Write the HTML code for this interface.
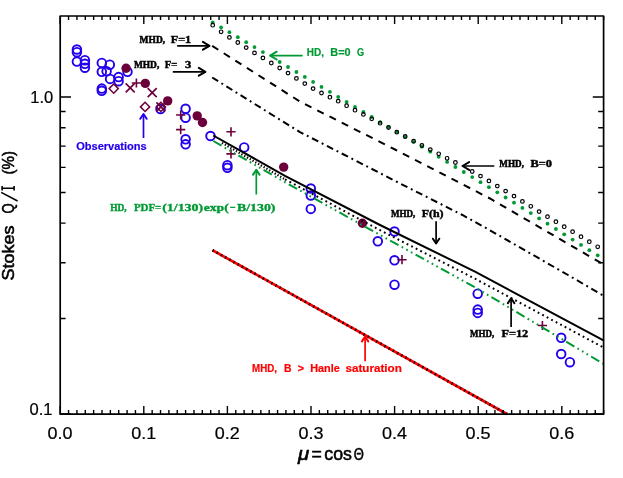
<!DOCTYPE html>
<html><head><meta charset="utf-8"><title>Stokes Q/I</title>
<style>html,body{margin:0;padding:0;background:#fff;}svg{display:block;will-change:transform;}</style>
</head><body>
<svg width="623" height="478" viewBox="0 0 623 478">
<rect width="623" height="478" fill="#fff"/>
<circle cx="212.7" cy="22.3" r="1.9" fill="#009933"/>
<circle cx="221.1" cy="27.3" r="1.9" fill="#009933"/>
<circle cx="229.4" cy="32.2" r="1.9" fill="#009933"/>
<circle cx="237.8" cy="37.2" r="1.9" fill="#009933"/>
<circle cx="246.2" cy="42.2" r="1.9" fill="#009933"/>
<circle cx="254.5" cy="47.1" r="1.9" fill="#009933"/>
<circle cx="262.9" cy="52.1" r="1.9" fill="#009933"/>
<circle cx="279.7" cy="62.0" r="1.9" fill="#009933"/>
<circle cx="288.0" cy="67.0" r="1.9" fill="#009933"/>
<circle cx="296.4" cy="72.0" r="1.9" fill="#009933"/>
<circle cx="304.8" cy="76.9" r="1.9" fill="#009933"/>
<circle cx="313.1" cy="81.9" r="1.9" fill="#009933"/>
<circle cx="321.5" cy="86.9" r="1.9" fill="#009933"/>
<circle cx="329.9" cy="91.8" r="1.9" fill="#009933"/>
<circle cx="338.2" cy="96.9" r="1.9" fill="#009933"/>
<circle cx="346.6" cy="101.9" r="1.9" fill="#009933"/>
<circle cx="355.0" cy="107.0" r="1.9" fill="#009933"/>
<circle cx="363.4" cy="112.0" r="1.9" fill="#009933"/>
<circle cx="371.7" cy="117.0" r="1.9" fill="#009933"/>
<circle cx="380.1" cy="122.1" r="1.9" fill="#009933"/>
<circle cx="388.5" cy="127.1" r="1.9" fill="#009933"/>
<circle cx="396.8" cy="132.0" r="1.9" fill="#009933"/>
<circle cx="405.2" cy="136.9" r="1.9" fill="#009933"/>
<circle cx="413.6" cy="141.8" r="1.9" fill="#009933"/>
<circle cx="421.9" cy="146.7" r="1.9" fill="#009933"/>
<circle cx="430.3" cy="151.7" r="1.9" fill="#009933"/>
<circle cx="438.7" cy="156.8" r="1.9" fill="#009933"/>
<circle cx="447.1" cy="161.9" r="1.9" fill="#009933"/>
<circle cx="455.4" cy="167.0" r="1.9" fill="#009933"/>
<circle cx="463.8" cy="172.0" r="1.9" fill="#009933"/>
<circle cx="472.2" cy="177.1" r="1.9" fill="#009933"/>
<circle cx="480.5" cy="182.2" r="1.9" fill="#009933"/>
<circle cx="488.9" cy="187.2" r="1.9" fill="#009933"/>
<circle cx="497.3" cy="192.3" r="1.9" fill="#009933"/>
<circle cx="505.6" cy="197.5" r="1.9" fill="#009933"/>
<circle cx="514.0" cy="202.7" r="1.9" fill="#009933"/>
<circle cx="522.4" cy="207.9" r="1.9" fill="#009933"/>
<circle cx="530.8" cy="213.1" r="1.9" fill="#009933"/>
<circle cx="539.1" cy="218.4" r="1.9" fill="#009933"/>
<circle cx="547.5" cy="223.7" r="1.9" fill="#009933"/>
<circle cx="555.9" cy="229.0" r="1.9" fill="#009933"/>
<circle cx="564.2" cy="234.3" r="1.9" fill="#009933"/>
<circle cx="572.6" cy="239.6" r="1.9" fill="#009933"/>
<circle cx="581.0" cy="244.9" r="1.9" fill="#009933"/>
<circle cx="589.3" cy="250.2" r="1.9" fill="#009933"/>
<circle cx="597.7" cy="255.3" r="1.9" fill="#009933"/>
<circle cx="212.7" cy="25.2" r="1.8" fill="none" stroke="#000" stroke-width="1.2"/>
<circle cx="221.1" cy="31.8" r="1.8" fill="none" stroke="#000" stroke-width="1.2"/>
<circle cx="229.4" cy="37.4" r="1.8" fill="none" stroke="#000" stroke-width="1.2"/>
<circle cx="237.8" cy="42.5" r="1.8" fill="none" stroke="#000" stroke-width="1.2"/>
<circle cx="246.2" cy="47.6" r="1.8" fill="none" stroke="#000" stroke-width="1.2"/>
<circle cx="254.5" cy="52.9" r="1.8" fill="none" stroke="#000" stroke-width="1.2"/>
<circle cx="262.9" cy="57.9" r="1.8" fill="none" stroke="#000" stroke-width="1.2"/>
<circle cx="271.3" cy="63.0" r="1.8" fill="none" stroke="#000" stroke-width="1.2"/>
<circle cx="279.7" cy="68.0" r="1.8" fill="none" stroke="#000" stroke-width="1.2"/>
<circle cx="288.0" cy="73.1" r="1.8" fill="none" stroke="#000" stroke-width="1.2"/>
<circle cx="296.4" cy="78.4" r="1.8" fill="none" stroke="#000" stroke-width="1.2"/>
<circle cx="304.8" cy="83.6" r="1.8" fill="none" stroke="#000" stroke-width="1.2"/>
<circle cx="313.1" cy="88.6" r="1.8" fill="none" stroke="#000" stroke-width="1.2"/>
<circle cx="321.5" cy="93.0" r="1.8" fill="none" stroke="#000" stroke-width="1.2"/>
<circle cx="329.9" cy="97.2" r="1.8" fill="none" stroke="#000" stroke-width="1.2"/>
<circle cx="338.2" cy="101.2" r="1.8" fill="none" stroke="#000" stroke-width="1.2"/>
<circle cx="346.6" cy="105.7" r="1.8" fill="none" stroke="#000" stroke-width="1.2"/>
<circle cx="355.0" cy="110.2" r="1.8" fill="none" stroke="#000" stroke-width="1.2"/>
<circle cx="363.4" cy="114.4" r="1.8" fill="none" stroke="#000" stroke-width="1.2"/>
<circle cx="371.7" cy="118.8" r="1.8" fill="none" stroke="#000" stroke-width="1.2"/>
<circle cx="380.1" cy="123.2" r="1.8" fill="none" stroke="#000" stroke-width="1.2"/>
<circle cx="388.5" cy="127.5" r="1.8" fill="none" stroke="#000" stroke-width="1.2"/>
<circle cx="396.8" cy="132.2" r="1.8" fill="none" stroke="#000" stroke-width="1.2"/>
<circle cx="405.2" cy="136.5" r="1.8" fill="none" stroke="#000" stroke-width="1.2"/>
<circle cx="413.6" cy="141.2" r="1.8" fill="none" stroke="#000" stroke-width="1.2"/>
<circle cx="421.9" cy="145.5" r="1.8" fill="none" stroke="#000" stroke-width="1.2"/>
<circle cx="430.3" cy="149.6" r="1.8" fill="none" stroke="#000" stroke-width="1.2"/>
<circle cx="438.7" cy="153.8" r="1.8" fill="none" stroke="#000" stroke-width="1.2"/>
<circle cx="447.1" cy="158.3" r="1.8" fill="none" stroke="#000" stroke-width="1.2"/>
<circle cx="455.4" cy="162.5" r="1.8" fill="none" stroke="#000" stroke-width="1.2"/>
<circle cx="472.2" cy="171.5" r="1.8" fill="none" stroke="#000" stroke-width="1.2"/>
<circle cx="480.5" cy="176.1" r="1.8" fill="none" stroke="#000" stroke-width="1.2"/>
<circle cx="488.9" cy="180.9" r="1.8" fill="none" stroke="#000" stroke-width="1.2"/>
<circle cx="497.3" cy="186.1" r="1.8" fill="none" stroke="#000" stroke-width="1.2"/>
<circle cx="505.6" cy="191.1" r="1.8" fill="none" stroke="#000" stroke-width="1.2"/>
<circle cx="514.0" cy="196.1" r="1.8" fill="none" stroke="#000" stroke-width="1.2"/>
<circle cx="522.4" cy="201.4" r="1.8" fill="none" stroke="#000" stroke-width="1.2"/>
<circle cx="530.8" cy="206.3" r="1.8" fill="none" stroke="#000" stroke-width="1.2"/>
<circle cx="539.1" cy="211.6" r="1.8" fill="none" stroke="#000" stroke-width="1.2"/>
<circle cx="547.5" cy="216.7" r="1.8" fill="none" stroke="#000" stroke-width="1.2"/>
<circle cx="555.9" cy="221.7" r="1.8" fill="none" stroke="#000" stroke-width="1.2"/>
<circle cx="564.2" cy="226.7" r="1.8" fill="none" stroke="#000" stroke-width="1.2"/>
<circle cx="572.6" cy="231.7" r="1.8" fill="none" stroke="#000" stroke-width="1.2"/>
<circle cx="581.0" cy="236.7" r="1.8" fill="none" stroke="#000" stroke-width="1.2"/>
<circle cx="589.3" cy="241.7" r="1.8" fill="none" stroke="#000" stroke-width="1.2"/>
<circle cx="597.7" cy="246.8" r="1.8" fill="none" stroke="#000" stroke-width="1.2"/>
<circle cx="76.9" cy="49.5" r="4.3" fill="none" stroke="#2200ee" stroke-width="1.9"/>
<circle cx="76.9" cy="52.2" r="4.3" fill="none" stroke="#2200ee" stroke-width="1.9"/>
<circle cx="76.9" cy="61.6" r="4.3" fill="none" stroke="#2200ee" stroke-width="1.9"/>
<circle cx="84.9" cy="60.2" r="4.3" fill="none" stroke="#2200ee" stroke-width="1.9"/>
<circle cx="84.9" cy="63.8" r="4.3" fill="none" stroke="#2200ee" stroke-width="1.9"/>
<circle cx="84.9" cy="67.7" r="4.3" fill="none" stroke="#2200ee" stroke-width="1.9"/>
<circle cx="101.8" cy="62.9" r="4.3" fill="none" stroke="#2200ee" stroke-width="1.9"/>
<circle cx="101.8" cy="71.8" r="4.3" fill="none" stroke="#2200ee" stroke-width="1.9"/>
<circle cx="109.8" cy="64.7" r="4.3" fill="none" stroke="#2200ee" stroke-width="1.9"/>
<circle cx="106.6" cy="71.2" r="4.3" fill="none" stroke="#2200ee" stroke-width="1.9"/>
<circle cx="110.1" cy="78.9" r="4.3" fill="none" stroke="#2200ee" stroke-width="1.9"/>
<circle cx="101.8" cy="88.6" r="4.3" fill="none" stroke="#2200ee" stroke-width="1.9"/>
<circle cx="101.8" cy="90.8" r="4.3" fill="none" stroke="#2200ee" stroke-width="1.9"/>
<circle cx="118.6" cy="77.1" r="4.3" fill="none" stroke="#2200ee" stroke-width="1.9"/>
<circle cx="118.6" cy="81.2" r="4.3" fill="none" stroke="#2200ee" stroke-width="1.9"/>
<circle cx="127.5" cy="71.8" r="4.3" fill="none" stroke="#2200ee" stroke-width="1.9"/>
<circle cx="160.5" cy="109.0" r="4.3" fill="none" stroke="#2200ee" stroke-width="1.9"/>
<circle cx="185.6" cy="108.8" r="4.3" fill="none" stroke="#2200ee" stroke-width="1.9"/>
<circle cx="185.6" cy="117.7" r="4.3" fill="none" stroke="#2200ee" stroke-width="1.9"/>
<circle cx="185.6" cy="139.3" r="4.3" fill="none" stroke="#2200ee" stroke-width="1.9"/>
<circle cx="185.6" cy="144.3" r="4.3" fill="none" stroke="#2200ee" stroke-width="1.9"/>
<circle cx="210.5" cy="136.0" r="4.3" fill="none" stroke="#2200ee" stroke-width="1.9"/>
<circle cx="244.2" cy="147.4" r="4.3" fill="none" stroke="#2200ee" stroke-width="1.9"/>
<circle cx="227.4" cy="165.2" r="4.3" fill="none" stroke="#2200ee" stroke-width="1.9"/>
<circle cx="227.4" cy="167.8" r="4.3" fill="none" stroke="#2200ee" stroke-width="1.9"/>
<circle cx="310.8" cy="188.5" r="4.3" fill="none" stroke="#2200ee" stroke-width="1.9"/>
<circle cx="310.8" cy="195.5" r="4.3" fill="none" stroke="#2200ee" stroke-width="1.9"/>
<circle cx="310.8" cy="208.9" r="4.3" fill="none" stroke="#2200ee" stroke-width="1.9"/>
<circle cx="377.8" cy="241.3" r="4.3" fill="none" stroke="#2200ee" stroke-width="1.9"/>
<circle cx="394.5" cy="231.5" r="4.3" fill="none" stroke="#2200ee" stroke-width="1.9"/>
<circle cx="394.5" cy="260.3" r="4.3" fill="none" stroke="#2200ee" stroke-width="1.9"/>
<circle cx="394.5" cy="284.7" r="4.3" fill="none" stroke="#2200ee" stroke-width="1.9"/>
<circle cx="477.7" cy="293.7" r="4.3" fill="none" stroke="#2200ee" stroke-width="1.9"/>
<circle cx="477.7" cy="309.6" r="4.3" fill="none" stroke="#2200ee" stroke-width="1.9"/>
<circle cx="477.7" cy="312.9" r="4.3" fill="none" stroke="#2200ee" stroke-width="1.9"/>
<circle cx="561.2" cy="337.8" r="4.3" fill="none" stroke="#2200ee" stroke-width="1.9"/>
<circle cx="561.2" cy="354.0" r="4.3" fill="none" stroke="#2200ee" stroke-width="1.9"/>
<circle cx="569.9" cy="362.2" r="4.3" fill="none" stroke="#2200ee" stroke-width="1.9"/>
<circle cx="126.1" cy="68.2" r="4.7" fill="#6c003a"/>
<circle cx="145.3" cy="83.4" r="4.7" fill="#6c003a"/>
<circle cx="167.7" cy="100.9" r="4.7" fill="#6c003a"/>
<circle cx="197.2" cy="115.9" r="4.7" fill="#6c003a"/>
<circle cx="202.5" cy="122.5" r="4.7" fill="#6c003a"/>
<circle cx="283.7" cy="167.1" r="4.7" fill="#6c003a"/>
<circle cx="362.4" cy="223.3" r="4.7" fill="#6c003a"/>
<path d="M109.1 88.6 l4.6 -4.6 l4.6 4.6 l-4.6 4.6 Z" fill="none" stroke="#6c003a" stroke-width="1.5"/>
<path d="M140.5 106.9 l4.6 -4.6 l4.6 4.6 l-4.6 4.6 Z" fill="none" stroke="#6c003a" stroke-width="1.5"/>
<path d="M156.3 106.9 l4.6 -4.6 l4.6 4.6 l-4.6 4.6 Z" fill="none" stroke="#6c003a" stroke-width="1.5"/>
<path d="M125.7 83.3 L134.7 92.3 M125.7 92.3 L134.7 83.3" stroke="#6c003a" stroke-width="1.7" fill="none"/>
<path d="M147.7 88.2 L156.7 97.2 M147.7 97.2 L156.7 88.2" stroke="#6c003a" stroke-width="1.7" fill="none"/>
<path d="M156.4 102.4 L165.4 111.4 M156.4 111.4 L165.4 102.4" stroke="#6c003a" stroke-width="1.7" fill="none"/>
<path d="M131.8 83.0 L141.0 83.0 M136.4 78.4 L136.4 87.6" stroke="#6c003a" stroke-width="1.6" fill="none"/>
<path d="M176.1 115.0 L185.3 115.0 M180.7 110.4 L180.7 119.6" stroke="#6c003a" stroke-width="1.6" fill="none"/>
<path d="M176.1 129.6 L185.3 129.6 M180.7 125.0 L180.7 134.2" stroke="#6c003a" stroke-width="1.6" fill="none"/>
<path d="M226.4 131.8 L235.6 131.8 M231.0 127.2 L231.0 136.4" stroke="#6c003a" stroke-width="1.6" fill="none"/>
<path d="M226.4 153.9 L235.6 153.9 M231.0 149.3 L231.0 158.5" stroke="#6c003a" stroke-width="1.6" fill="none"/>
<path d="M397.4 259.7 L406.6 259.7 M402.0 255.1 L402.0 264.3" stroke="#6c003a" stroke-width="1.6" fill="none"/>
<path d="M537.8 325.5 L547.0 325.5 M542.4 320.9 L542.4 330.1" stroke="#6c003a" stroke-width="1.6" fill="none"/>
<path d="M212.2 45.9 L300.0 101.6 L395.0 149.5 L490.0 198.5 L602.7 264.0" fill="none" stroke="#000" stroke-width="2.0" stroke-dasharray="7.2 6.5"/>
<path d="M212.2 77.5 L261.2 108.0 L300.0 132.1 L364.2 165.0 L395.0 180.9 L462.4 215.0 L490.0 230.3 L568.0 275.0 L603.5 295.8" fill="none" stroke="#000" stroke-width="2.0" stroke-dasharray="7.0 3.9 1.9 3.9"/>
<path d="M213.3 141.0 L285.0 182.2 L380.0 235.0 L475.0 287.3 L603.5 363.9" fill="none" stroke="#009933" stroke-width="2.0" stroke-dasharray="9.5 3.6 1.7 3.6 1.7 3.6 1.7 3.6"/>
<path d="M222.0 142.9 L224.0 144.0 L285.0 179.3" fill="none" stroke="#000" stroke-width="2.2" stroke-dasharray="1.3 1.9"/>
<path d="M285.0 179.3 L380.0 230.2 L475.0 278.7 L603.5 347.5" fill="none" stroke="#000" stroke-width="2.0" stroke-dasharray="1.8 3.3"/>
<path d="M213.3 135.5 L285.0 175.8 L380.0 225.0 L475.0 271.7 L603.5 340.3" fill="none" stroke="#000" stroke-width="2.0"/>
<path d="M212.5 250.2 L506.9 414.0" fill="none" stroke="#ff0000" stroke-width="2.7"/>
<path d="M212.5 250.2 L506.9 414.0" fill="none" stroke="#000" stroke-width="2.7" stroke-dasharray="1.3 3.5"/>
<path d="M60.20 414.0 v-8.0 M60.20 16.0 v8.0 M68.56 414.0 v-4.0 M68.56 16.0 v4.0 M76.92 414.0 v-4.0 M76.92 16.0 v4.0 M85.28 414.0 v-4.0 M85.28 16.0 v4.0 M93.64 414.0 v-4.0 M93.64 16.0 v4.0 M102.00 414.0 v-4.0 M102.00 16.0 v4.0 M110.36 414.0 v-4.0 M110.36 16.0 v4.0 M118.72 414.0 v-4.0 M118.72 16.0 v4.0 M127.08 414.0 v-4.0 M127.08 16.0 v4.0 M135.44 414.0 v-4.0 M135.44 16.0 v4.0 M143.80 414.0 v-8.0 M143.80 16.0 v8.0 M152.16 414.0 v-4.0 M152.16 16.0 v4.0 M160.52 414.0 v-4.0 M160.52 16.0 v4.0 M168.88 414.0 v-4.0 M168.88 16.0 v4.0 M177.24 414.0 v-4.0 M177.24 16.0 v4.0 M185.60 414.0 v-4.0 M185.60 16.0 v4.0 M193.96 414.0 v-4.0 M193.96 16.0 v4.0 M202.32 414.0 v-4.0 M202.32 16.0 v4.0 M210.68 414.0 v-4.0 M210.68 16.0 v4.0 M219.04 414.0 v-4.0 M219.04 16.0 v4.0 M227.40 414.0 v-8.0 M227.40 16.0 v8.0 M235.76 414.0 v-4.0 M235.76 16.0 v4.0 M244.12 414.0 v-4.0 M244.12 16.0 v4.0 M252.48 414.0 v-4.0 M252.48 16.0 v4.0 M260.84 414.0 v-4.0 M260.84 16.0 v4.0 M269.20 414.0 v-4.0 M269.20 16.0 v4.0 M277.56 414.0 v-4.0 M277.56 16.0 v4.0 M285.92 414.0 v-4.0 M285.92 16.0 v4.0 M294.28 414.0 v-4.0 M294.28 16.0 v4.0 M302.64 414.0 v-4.0 M302.64 16.0 v4.0 M311.00 414.0 v-8.0 M311.00 16.0 v8.0 M319.36 414.0 v-4.0 M319.36 16.0 v4.0 M327.72 414.0 v-4.0 M327.72 16.0 v4.0 M336.08 414.0 v-4.0 M336.08 16.0 v4.0 M344.44 414.0 v-4.0 M344.44 16.0 v4.0 M352.80 414.0 v-4.0 M352.80 16.0 v4.0 M361.16 414.0 v-4.0 M361.16 16.0 v4.0 M369.52 414.0 v-4.0 M369.52 16.0 v4.0 M377.88 414.0 v-4.0 M377.88 16.0 v4.0 M386.24 414.0 v-4.0 M386.24 16.0 v4.0 M394.60 414.0 v-8.0 M394.60 16.0 v8.0 M402.96 414.0 v-4.0 M402.96 16.0 v4.0 M411.32 414.0 v-4.0 M411.32 16.0 v4.0 M419.68 414.0 v-4.0 M419.68 16.0 v4.0 M428.04 414.0 v-4.0 M428.04 16.0 v4.0 M436.40 414.0 v-4.0 M436.40 16.0 v4.0 M444.76 414.0 v-4.0 M444.76 16.0 v4.0 M453.12 414.0 v-4.0 M453.12 16.0 v4.0 M461.48 414.0 v-4.0 M461.48 16.0 v4.0 M469.84 414.0 v-4.0 M469.84 16.0 v4.0 M478.20 414.0 v-8.0 M478.20 16.0 v8.0 M486.56 414.0 v-4.0 M486.56 16.0 v4.0 M494.92 414.0 v-4.0 M494.92 16.0 v4.0 M503.28 414.0 v-4.0 M503.28 16.0 v4.0 M511.64 414.0 v-4.0 M511.64 16.0 v4.0 M520.00 414.0 v-4.0 M520.00 16.0 v4.0 M528.36 414.0 v-4.0 M528.36 16.0 v4.0 M536.72 414.0 v-4.0 M536.72 16.0 v4.0 M545.08 414.0 v-4.0 M545.08 16.0 v4.0 M553.44 414.0 v-4.0 M553.44 16.0 v4.0 M561.80 414.0 v-8.0 M561.80 16.0 v8.0 M570.16 414.0 v-4.0 M570.16 16.0 v4.0 M578.52 414.0 v-4.0 M578.52 16.0 v4.0 M586.88 414.0 v-4.0 M586.88 16.0 v4.0 M595.24 414.0 v-4.0 M595.24 16.0 v4.0 M603.60 414.0 v-4.0 M603.60 16.0 v4.0 M60.2 414.00 h10.8 M603.6 414.00 h-10.8 M60.2 318.57 h5.4 M603.6 318.57 h-5.4 M60.2 262.75 h5.4 M603.6 262.75 h-5.4 M60.2 223.15 h5.4 M603.6 223.15 h-5.4 M60.2 192.43 h5.4 M603.6 192.43 h-5.4 M60.2 167.33 h5.4 M603.6 167.33 h-5.4 M60.2 146.10 h5.4 M603.6 146.10 h-5.4 M60.2 127.72 h5.4 M603.6 127.72 h-5.4 M60.2 111.51 h5.4 M603.6 111.51 h-5.4 M60.2 97.00 h10.8 M603.6 97.00 h-10.8" stroke="#000" stroke-width="1.4" fill="none"/>
<rect x="60.2" y="16.0" width="543.4" height="398.2" fill="none" stroke="#000" stroke-width="1.7" stroke-linejoin="round"/>
<path d="M177.2 45.8 L209.5 45.8" stroke="#000" stroke-width="1.7" fill="none"/>
<path d="M202.9 49.7 L209.5 45.8 L202.9 41.9" stroke="#000" stroke-width="2.0" fill="none" stroke-linejoin="round" stroke-linecap="round"/>
<path d="M172.8 71.8 L205.4 71.8" stroke="#000" stroke-width="1.7" fill="none"/>
<path d="M198.8 75.7 L205.4 71.8 L198.8 67.9" stroke="#000" stroke-width="2.0" fill="none" stroke-linejoin="round" stroke-linecap="round"/>
<path d="M302.6 55.6 L270.1 55.6" stroke="#009933" stroke-width="1.7" fill="none"/>
<path d="M276.7 51.7 L270.1 55.6 L276.7 59.5" stroke="#009933" stroke-width="2.0" fill="none" stroke-linejoin="round" stroke-linecap="round"/>
<path d="M494.3 166.0 L462.5 166.0" stroke="#000" stroke-width="1.7" fill="none"/>
<path d="M469.1 162.1 L462.5 166.0 L469.1 169.9" stroke="#000" stroke-width="2.0" fill="none" stroke-linejoin="round" stroke-linecap="round"/>
<path d="M143.5 138.0 L143.5 114.0" stroke="#2200ee" stroke-width="1.7" fill="none"/>
<path d="M146.7 118.8 L143.5 114.0 L140.3 118.8" stroke="#2200ee" stroke-width="2.0" fill="none" stroke-linejoin="round" stroke-linecap="round"/>
<path d="M256.3 194.5 L256.3 169.8" stroke="#009933" stroke-width="1.7" fill="none"/>
<path d="M259.5 174.6 L256.3 169.8 L253.1 174.6" stroke="#009933" stroke-width="2.0" fill="none" stroke-linejoin="round" stroke-linecap="round"/>
<path d="M436.1 221.2 L436.1 243.5" stroke="#000" stroke-width="1.7" fill="none"/>
<path d="M432.9 238.7 L436.1 243.5 L439.3 238.7" stroke="#000" stroke-width="2.0" fill="none" stroke-linejoin="round" stroke-linecap="round"/>
<path d="M511.1 327.0 L511.1 298.3" stroke="#000" stroke-width="1.7" fill="none"/>
<path d="M514.3 303.1 L511.1 298.3 L507.9 303.1" stroke="#000" stroke-width="2.0" fill="none" stroke-linejoin="round" stroke-linecap="round"/>
<path d="M365.1 361.2 L365.1 336.6" stroke="#ff0000" stroke-width="1.7" fill="none"/>
<path d="M368.3 341.4 L365.1 336.6 L361.9 341.4" stroke="#ff0000" stroke-width="2.0" fill="none" stroke-linejoin="round" stroke-linecap="round"/>
<text x="139.6" y="42.9" font-family="'Liberation Serif', serif" font-size="11.0" font-weight="bold" fill="#000" text-anchor="start" textLength="25.5" lengthAdjust="spacingAndGlyphs" stroke="#000" stroke-width="0.55">MHD,</text>
<text x="170.8" y="42.9" font-family="'Liberation Serif', serif" font-size="11.0" font-weight="bold" fill="#000" text-anchor="start" textLength="20.4" lengthAdjust="spacingAndGlyphs" stroke="#000" stroke-width="0.45">F=1</text>
<text x="133.9" y="67.8" font-family="'Liberation Serif', serif" font-size="11.0" font-weight="bold" fill="#000" text-anchor="start" textLength="25.4" lengthAdjust="spacingAndGlyphs" stroke="#000" stroke-width="0.55">MHD,</text>
<text x="164.7" y="67.8" font-family="'Liberation Serif', serif" font-size="11.0" font-weight="bold" fill="#000" text-anchor="start" textLength="12.5" lengthAdjust="spacingAndGlyphs" stroke="#000" stroke-width="0.45">F=</text>
<text x="184.9" y="67.8" font-family="'Liberation Serif', serif" font-size="11.0" font-weight="bold" fill="#000" text-anchor="start" textLength="6.3" lengthAdjust="spacingAndGlyphs" stroke="#000" stroke-width="0.45">3</text>
<text x="306.8" y="56.2" font-family="'Liberation Sans', sans-serif" font-size="10.8" font-weight="bold" fill="#009933" text-anchor="start" textLength="17.2" lengthAdjust="spacingAndGlyphs" stroke="#009933" stroke-width="0.20">HD,</text>
<text x="330.3" y="56.2" font-family="'Liberation Sans', sans-serif" font-size="10.8" font-weight="bold" fill="#009933" text-anchor="start" textLength="20.2" lengthAdjust="spacingAndGlyphs" stroke="#009933" stroke-width="0.20">B=0</text>
<text x="356.9" y="56.2" font-family="'Liberation Sans', sans-serif" font-size="10.8" font-weight="bold" fill="#009933" text-anchor="start" textLength="7.1" lengthAdjust="spacingAndGlyphs" stroke="#009933" stroke-width="0.20">G</text>
<text x="499.3" y="167.3" font-family="'Liberation Serif', serif" font-size="11.0" font-weight="bold" fill="#000" text-anchor="start" textLength="24.7" lengthAdjust="spacingAndGlyphs" stroke="#000" stroke-width="0.55">MHD,</text>
<text x="530.5" y="167.3" font-family="'Liberation Serif', serif" font-size="11.0" font-weight="bold" fill="#000" text-anchor="start" textLength="21.5" lengthAdjust="spacingAndGlyphs" stroke="#000" stroke-width="0.45">B=0</text>
<text x="76.2" y="149.9" font-family="'Liberation Sans', sans-serif" font-size="10.8" font-weight="bold" fill="#2200ee" text-anchor="start" textLength="70.5" lengthAdjust="spacingAndGlyphs" stroke="#2200ee" stroke-width="0.20">Observations</text>
<text x="110.2" y="210.9" font-family="'Liberation Serif', serif" font-size="11.3" font-weight="bold" fill="#009933" text-anchor="start" textLength="16.5" lengthAdjust="spacingAndGlyphs" stroke="#009933" stroke-width="0.45">HD,</text>
<text x="133.9" y="210.9" font-family="'Liberation Serif', serif" font-size="11.3" font-weight="bold" fill="#009933" text-anchor="start" textLength="27.4" lengthAdjust="spacingAndGlyphs" stroke="#009933" stroke-width="0.35">PDF=</text>
<text x="162.2" y="210.9" font-family="'Liberation Serif', serif" font-size="11.3" font-weight="bold" fill="#009933" text-anchor="start" textLength="41.0" lengthAdjust="spacingAndGlyphs" stroke="#009933" stroke-width="0.35">(1/130)</text>
<text x="203.8" y="210.9" font-family="'Liberation Serif', serif" font-size="11.3" font-weight="bold" fill="#009933" text-anchor="start" textLength="24.9" lengthAdjust="spacingAndGlyphs" stroke="#009933" stroke-width="0.35">exp(</text>
<text x="229.8" y="210.9" font-family="'Liberation Serif', serif" font-size="11.3" font-weight="bold" fill="#009933" text-anchor="start" textLength="5.8" lengthAdjust="spacingAndGlyphs" stroke="#009933" stroke-width="0.35">&#8722;</text>
<text x="237.0" y="210.9" font-family="'Liberation Serif', serif" font-size="11.3" font-weight="bold" fill="#009933" text-anchor="start" textLength="38.5" lengthAdjust="spacingAndGlyphs" stroke="#009933" stroke-width="0.35">B/130)</text>
<text x="390.9" y="217.4" font-family="'Liberation Serif', serif" font-size="11.0" font-weight="bold" fill="#000" text-anchor="start" textLength="24.4" lengthAdjust="spacingAndGlyphs" stroke="#000" stroke-width="0.55">MHD,</text>
<text x="421.7" y="217.4" font-family="'Liberation Serif', serif" font-size="11.0" font-weight="bold" fill="#000" text-anchor="start" textLength="21.8" lengthAdjust="spacingAndGlyphs" stroke="#000" stroke-width="0.45">F(h)</text>
<text x="470.0" y="337.3" font-family="'Liberation Serif', serif" font-size="11.0" font-weight="bold" fill="#000" text-anchor="start" textLength="24.2" lengthAdjust="spacingAndGlyphs" stroke="#000" stroke-width="0.55">MHD,</text>
<text x="501.4" y="337.3" font-family="'Liberation Serif', serif" font-size="11.0" font-weight="bold" fill="#000" text-anchor="start" textLength="26.9" lengthAdjust="spacingAndGlyphs" stroke="#000" stroke-width="0.45">F=12</text>
<text x="252.1" y="372.2" font-family="'Liberation Sans', sans-serif" font-size="10.3" font-weight="bold" fill="#ff0000" text-anchor="start" textLength="24.9" lengthAdjust="spacingAndGlyphs" stroke="#ff0000" stroke-width="0.20">MHD,</text>
<text x="283.9" y="372.2" font-family="'Liberation Sans', sans-serif" font-size="10.3" font-weight="bold" fill="#ff0000" text-anchor="start" textLength="7.5" lengthAdjust="spacingAndGlyphs" stroke="#ff0000" stroke-width="0.20">B</text>
<text x="297.8" y="372.2" font-family="'Liberation Sans', sans-serif" font-size="10.3" font-weight="bold" fill="#ff0000" text-anchor="start" textLength="6.3" lengthAdjust="spacingAndGlyphs" stroke="#ff0000" stroke-width="0.20">&gt;</text>
<text x="310.2" y="372.2" font-family="'Liberation Sans', sans-serif" font-size="10.3" font-weight="bold" fill="#ff0000" text-anchor="start" textLength="29.5" lengthAdjust="spacingAndGlyphs" stroke="#ff0000" stroke-width="0.20">Hanle</text>
<text x="345.5" y="372.2" font-family="'Liberation Sans', sans-serif" font-size="10.3" font-weight="bold" fill="#ff0000" text-anchor="start" textLength="56.3" lengthAdjust="spacingAndGlyphs" stroke="#ff0000" stroke-width="0.20">saturation</text>
<text x="47.6" y="438.8" font-family="'Liberation Sans', sans-serif" font-size="15.6" font-weight="normal" fill="#000" text-anchor="start" textLength="25.0" lengthAdjust="spacingAndGlyphs" stroke="#000" stroke-width="0.2">0.0</text>
<text x="131.2" y="438.8" font-family="'Liberation Sans', sans-serif" font-size="15.6" font-weight="normal" fill="#000" text-anchor="start" textLength="25.0" lengthAdjust="spacingAndGlyphs" stroke="#000" stroke-width="0.2">0.1</text>
<text x="214.8" y="438.8" font-family="'Liberation Sans', sans-serif" font-size="15.6" font-weight="normal" fill="#000" text-anchor="start" textLength="25.0" lengthAdjust="spacingAndGlyphs" stroke="#000" stroke-width="0.2">0.2</text>
<text x="298.4" y="438.8" font-family="'Liberation Sans', sans-serif" font-size="15.6" font-weight="normal" fill="#000" text-anchor="start" textLength="25.0" lengthAdjust="spacingAndGlyphs" stroke="#000" stroke-width="0.2">0.3</text>
<text x="382.0" y="438.8" font-family="'Liberation Sans', sans-serif" font-size="15.6" font-weight="normal" fill="#000" text-anchor="start" textLength="25.0" lengthAdjust="spacingAndGlyphs" stroke="#000" stroke-width="0.2">0.4</text>
<text x="465.6" y="438.8" font-family="'Liberation Sans', sans-serif" font-size="15.6" font-weight="normal" fill="#000" text-anchor="start" textLength="25.0" lengthAdjust="spacingAndGlyphs" stroke="#000" stroke-width="0.2">0.5</text>
<text x="549.2" y="438.8" font-family="'Liberation Sans', sans-serif" font-size="15.6" font-weight="normal" fill="#000" text-anchor="start" textLength="25.0" lengthAdjust="spacingAndGlyphs" stroke="#000" stroke-width="0.2">0.6</text>
<text x="30.3" y="103.2" font-family="'Liberation Sans', sans-serif" font-size="15.6" font-weight="normal" fill="#000" text-anchor="start" textLength="23.0" lengthAdjust="spacingAndGlyphs" stroke="#000" stroke-width="0.2">1.0</text>
<text x="29.5" y="414.9" font-family="'Liberation Sans', sans-serif" font-size="15.6" font-weight="normal" fill="#000" text-anchor="start" textLength="23.0" lengthAdjust="spacingAndGlyphs" stroke="#000" stroke-width="0.2">0.1</text>
<text x="298.1" y="459.6" font-family="'Liberation Sans', sans-serif" font-size="17.5" font-style="italic" fill="#000" textLength="11.2" lengthAdjust="spacingAndGlyphs" stroke="#000" stroke-width="0.55">&#956;</text>
<text x="311.4" y="459.6" font-family="'Liberation Sans', sans-serif" font-size="17.5" font-weight="normal" fill="#000" text-anchor="start" textLength="10.3" lengthAdjust="spacingAndGlyphs" stroke="#000" stroke-width="0.55">=</text>
<text x="324.3" y="459.6" font-family="'Liberation Sans', sans-serif" font-size="17.5" font-weight="normal" fill="#000" text-anchor="start" textLength="27.6" lengthAdjust="spacingAndGlyphs" stroke="#000" stroke-width="0.55">cos</text>
<text x="353.8" y="459.6" font-family="'Liberation Sans', sans-serif" font-size="15.8" font-weight="normal" fill="#000" text-anchor="start" textLength="10.1" lengthAdjust="spacingAndGlyphs" stroke="#000" stroke-width="0.55">&#920;</text>
<g transform="translate(14.1,0) rotate(-90)">
<text x="-280.6" y="0.0" font-family="'Liberation Sans', sans-serif" font-size="16.6" font-weight="normal" fill="#000" text-anchor="start" textLength="55.2" lengthAdjust="spacingAndGlyphs" stroke="#000" stroke-width="0.55">Stokes</text>
<text x="-213.6" y="0.0" font-family="'Liberation Sans', sans-serif" font-size="16.6" font-weight="normal" fill="#000" text-anchor="start" textLength="10.2" lengthAdjust="spacingAndGlyphs" stroke="#000" stroke-width="0.55">Q</text>
<text x="-174.5" y="0.0" font-family="'Liberation Sans', sans-serif" font-size="16.6" font-weight="normal" fill="#000" text-anchor="start" textLength="23.5" lengthAdjust="spacingAndGlyphs" stroke="#000" stroke-width="0.55">(%)</text>
</g>
<path d="M17.6 201.0 L1.2 192.4 M2.1 188.3 H14.1 M2.1 186.1 V190.5 M14.1 186.1 V190.5" stroke="#000" stroke-width="1.6" fill="none"/>
</svg>
</body></html>
